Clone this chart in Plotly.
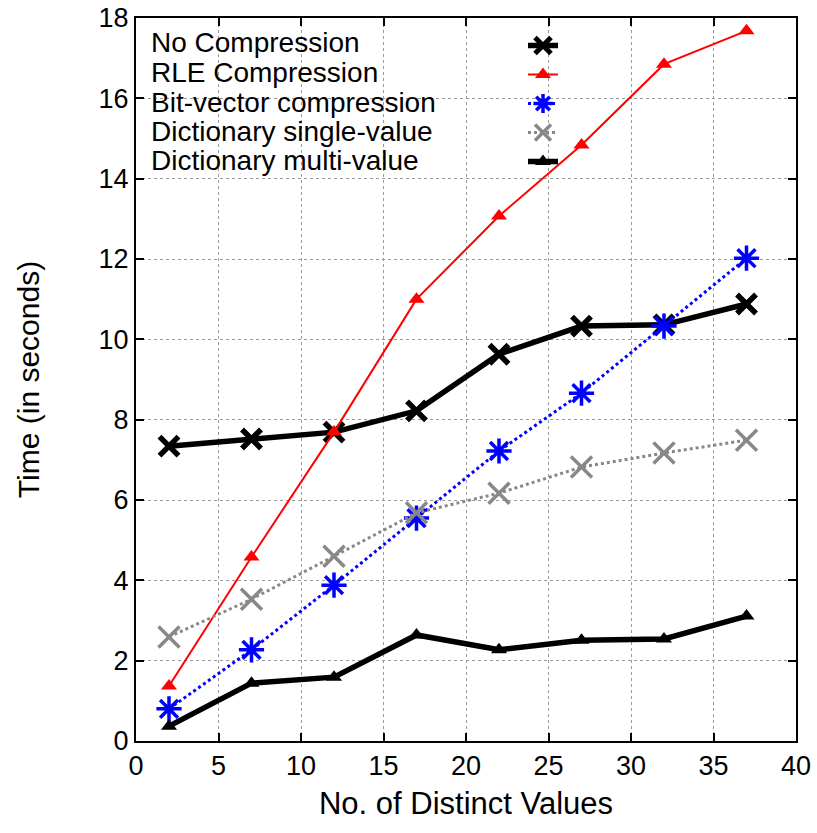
import plotly.graph_objects as go

x_vals = [2, 7, 12, 17, 22, 27, 32, 37]
no_compression = [7.34, 7.52, 7.69, 8.22, 9.63, 10.33, 10.36, 10.88]
rle_compression = [1.37, 4.58, 7.69, 11.0, 13.07, 14.84, 16.85, 17.68]
bitvector_compression = [0.8, 2.27, 3.88, 5.55, 7.22, 8.66, 10.33, 12.02]
dict_single = [2.59, 3.53, 4.6, 5.68, 6.17, 6.82, 7.17, 7.49]
dict_multi = [0.37, 1.44, 1.59, 2.64, 2.27, 2.51, 2.54, 3.11]
series_names = ["No Compression", "RLE Compression", "Bit-vector compression",
                "Dictionary single-value", "Dictionary multi-value"]
x_ticks = [0, 5, 10, 15, 20, 25, 30, 35, 40]
y_ticks = [0, 2, 4, 6, 8, 10, 12, 14, 16, 18]

FONT = "Liberation Sans, Arial, Helvetica, sans-serif"

styles = [
    dict(line=dict(color="black", width=5.5),
         marker=dict(symbol="x-thin-open", size=19, color="black", line=dict(width=5.5, color="black"))),
    dict(line=dict(color="#ff0000", width=2),
         marker=dict(symbol="triangle-up", size=14, color="#ff0000")),
    dict(line=dict(color="#0000ff", width=3, dash="dot"),
         marker=dict(symbol="asterisk-open", size=21, color="#0000ff", line=dict(width=3.5, color="#0000ff"))),
    dict(line=dict(color="#888888", width=3, dash="dot"),
         marker=dict(symbol="x-thin-open", size=21, color="#888888", line=dict(width=3.5, color="#888888"))),
    dict(line=dict(color="black", width=5.5),
         marker=dict(symbol="triangle-up", size=14, color="black")),
]
all_series = [no_compression, rle_compression, bitvector_compression, dict_single, dict_multi]

fig = go.Figure()
for name, ys, st in zip(series_names, all_series, styles):
    fig.add_trace(go.Scatter(x=x_vals, y=ys, mode="lines+markers", name=name,
                             line=st["line"], marker=st["marker"], showlegend=False))
# legend samples (symbols only; labels drawn as text to their left like gnuplot)
for name, st in zip(series_names, styles):
    fig.add_trace(go.Scatter(x=[None], y=[None], mode="lines+markers", name="\u00a0",
                             line=st["line"], marker=st["marker"], showlegend=True,
                             hoverinfo="skip"))

L, R, T, B = 136, 21, 18, 92
W, H = 817, 833
pw = W - L - R
ph = H - T - B

def px_to_paper_y(py):
    return (H - B - py) / ph

legend_rows = [43, 72.5, 102, 131.5, 161]
for name, py in zip(series_names, legend_rows):
    fig.add_annotation(text=name, xref="paper", yref="paper", x=(149 - L) / pw,
                       y=px_to_paper_y(py), xanchor="left", yanchor="middle",
                       showarrow=False, font=dict(family=FONT, size=28, color="black"))

fig.update_layout(
    width=W, height=H,
    margin=dict(l=L, r=R, t=T, b=B, autoexpand=False),
    paper_bgcolor="white", plot_bgcolor="white",
    font=dict(family=FONT, size=28, color="black"),
    showlegend=True,
    legend=dict(x=(523 - L) / pw, y=px_to_paper_y(26), xanchor="left", yanchor="top",
                bgcolor="rgba(0,0,0,0)", font=dict(size=20), tracegroupgap=0,
                itemwidth=30),
    xaxis=dict(range=[0, 40], tickvals=x_ticks, ticks="inside", ticklen=8, tickwidth=1.5,
               tickcolor="black", showline=True, linecolor="black", linewidth=2, mirror="allticks",
               showgrid=True, gridcolor="#9a9a9a", griddash="dot", gridwidth=1, zeroline=False,
               automargin=False,
               title=dict(text="No. of Distinct Values", font=dict(size=31), standoff=12),
               tickfont=dict(size=27)),
    yaxis=dict(range=[0, 18], tickvals=y_ticks, ticks="inside", ticklen=8, tickwidth=1.5,
               tickcolor="black", showline=True, linecolor="black", linewidth=2, mirror="allticks",
               showgrid=True, gridcolor="#9a9a9a", griddash="dot", gridwidth=1, zeroline=False,
               automargin=False,
               title=dict(text="Time (in seconds)", font=dict(size=30), standoff=50),
               tickfont=dict(size=27)),
)

fig.write_html("out.html", config={"displayModeBar": False})
with open("out.html", "r", encoding="utf-8") as f:
    html = f.read()
html = html.replace("<head>", "<head><style>html,body{margin:0;padding:0;overflow:hidden;}</style>", 1)
with open("out.html", "w", encoding="utf-8") as f:
    f.write(html)
